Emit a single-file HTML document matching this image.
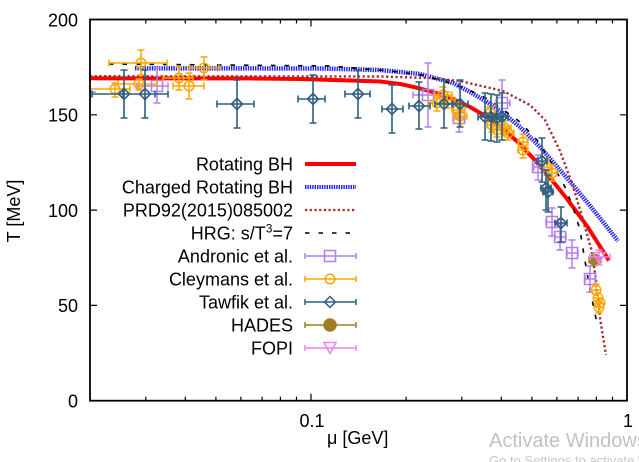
<!DOCTYPE html>
<html><head><meta charset="utf-8"><style>
html,body{margin:0;padding:0;background:#fff;}
svg{display:block;}
text{font-family:"Liberation Sans",Arial,sans-serif;}
</style></head><body>
<svg width="639" height="462" viewBox="0 0 639 462" xmlns="http://www.w3.org/2000/svg">
<defs>
<path id="sq" d="M-5.5 -5.5H5.5V5.5H-5.5Z"/>
<circle id="ci" cx="0" cy="0" r="4.8"/>
<path id="dm" d="M-5.5 0L0 -5.5L5.5 0L0 5.5Z"/>
<path id="tri" d="M-6 -4.5H6L0 6.5Z"/>
</defs>
<rect width="639" height="462" fill="#fff"/>

<!-- ticks -->
<g stroke="#000" stroke-width="1.2" fill="none">
<path d="M90 305.4h7M90 210.1h7M90 114.8h7M627 305.4h-7M627 210.1h-7M627 114.8h-7"/>
<path d="M311 400.7v-7M311 19.5v7"/>
<path d="M145.8 400.7v-4M185.3 400.7v-4M215.9 400.7v-4M240.9 400.7v-4M262.1 400.7v-4M280.4 400.7v-4M296.5 400.7v-4M406.1 400.7v-4M461.8 400.7v-4M501.3 400.7v-4M531.9 400.7v-4M556.9 400.7v-4M578.1 400.7v-4M596.4 400.7v-4M612.5 400.7v-4"/>
<path d="M145.8 19.5v4M185.3 19.5v4M215.9 19.5v4M240.9 19.5v4M262.1 19.5v4M280.4 19.5v4M296.5 19.5v4M406.1 19.5v4M461.8 19.5v4M501.3 19.5v4M531.9 19.5v4M556.9 19.5v4M578.1 19.5v4M596.4 19.5v4M612.5 19.5v4"/>
</g>

<!-- tick labels -->
<g font-size="18" fill="#000" text-anchor="end">
<text x="78" y="26.5">200</text>
<text x="78" y="121.5">150</text>
<text x="78" y="216.8">100</text>
<text x="78" y="312">50</text>
<text x="78" y="407.3">0</text>
</g>
<g font-size="18" fill="#000" text-anchor="middle">
<text x="312" y="427">0.1</text>
<text x="628" y="427">1</text>
</g>
<text x="327" y="444" font-size="18" fill="#000">μ [GeV]</text>
<text transform="translate(20,211) rotate(-90)" font-size="18" fill="#000" text-anchor="middle">T [MeV]</text>

<!-- curves -->
<polyline fill="none" stroke="#ff0000" stroke-width="4" stroke-linejoin="round" points="90,78.3 250,78.4 300,79 350,80.5 380,81.5 400,84 413,86.8 425,89.8 437,93.3 450,98 460,102.3 470,107 480,112.8 490,119 503,128.7 517,141.3 533,158.1 550,177.6 567,198.9 587,225.9 609,260.5"/>
<polyline fill="none" stroke="#2020ff" stroke-width="4.5" stroke-dasharray="1.4 1" stroke-linejoin="round" points="135,68.3 320,68.5 380,70 420,74 453,83 470,92 487,102 503,113 520,127 540,147 553,162 567,178 587,202 607,227 618,241"/>
<polyline fill="none" stroke="#a52a2a" stroke-width="2.4" stroke-dasharray="2.2 2.5" points="90,76.2 380,76.5 430,78 460,81 503,91 530,105 545,120 560,151 573,186 583,220 592,252 596,280 600,318 606,355"/>
<polyline fill="none" stroke="#000" stroke-width="1.6" stroke-dasharray="4.5 9" points="109,64 330,66 390,71 422,75 447,82 467,89 490,100 520,122 537,140 553,165 565,187 573,207 580,230 584,255 590,290 597,323"/>

<!-- Andronic -->
<g stroke="#b07ef5" stroke-width="1.5" fill="none">
<path d="M89 92H96M137 86H168M137 82.5v7M168 82.5v7M157 68V103M153.5 68h7M153.5 103h7M413 95H442M413 91.5v7M442 91.5v7M428 63V127M424.5 63h7M424.5 127h7M453 118H465M453 114.5v7M465 114.5v7M459 105V132M455.5 105h7M455.5 132h7M496 103H510M496 99.5v7M510 99.5v7M502 80V125M498.5 80h7M498.5 125h7M534 167H544M534 163.5v7M544 163.5v7M538 155V180M534.5 155h7M534.5 180h7M546 222H558M546 218.5v7M558 218.5v7M552 208V236M548.5 208h7M548.5 236h7M555 237H566M555 233.5v7M566 233.5v7M560 224V250M556.5 224h7M556.5 250h7M567 253H578M567 249.5v7M578 249.5v7M572 240V268M568.5 240h7M568.5 268h7M585 279H595M585 275.5v7M595 275.5v7M590 266V292M586.5 266h7M586.5 292h7"/>
<use href="#sq" x="157" y="86"/><use href="#sq" x="428" y="95"/><use href="#sq" x="459" y="118"/><use href="#sq" x="502" y="103"/><use href="#sq" x="538" y="167"/><use href="#sq" x="552" y="222"/><use href="#sq" x="560" y="237"/><use href="#sq" x="572" y="253"/><use href="#sq" x="590" y="279"/>
</g>

<!-- Cleymans -->
<g stroke="#ffa500" stroke-width="1.5" fill="none">
<path d="M109 63H167M109 59.5v7M167 59.5v7M141 50V75M137.5 50h7M137.5 75h7M90 89H130M90 85.5v7M130 85.5v7M115 83V97M111.5 83h7M111.5 97h7M118 84H157M118 80.5v7M157 80.5v7M139 79V90M135.5 79h7M135.5 90h7M163 78H193M163 74.5v7M193 74.5v7M179 67V90M175.5 67h7M175.5 90h7M173 86H204M173 82.5v7M204 82.5v7M189 73V99M185.5 73h7M185.5 99h7M189 68H219M189 64.5v7M219 64.5v7M204 57V80M200.5 57h7M200.5 80h7M428 103H446M428 99.5v7M446 99.5v7M437 95V111M433.5 95h7M433.5 111h7M435 95H452M435 91.5v7M452 91.5v7M443 87V103M439.5 87h7M439.5 103h7M440 100H455M440 96.5v7M455 96.5v7M447 92V108M443.5 92h7M443.5 108h7M452 110H465M452 106.5v7M465 106.5v7M458 102V119M454.5 102h7M454.5 119h7M454 116H467M454 112.5v7M467 112.5v7M460 108V124M456.5 108h7M456.5 124h7M485 113H496M485 109.5v7M496 109.5v7M490 107V119M486.5 107h7M486.5 119h7M487 125H498M487 121.5v7M498 121.5v7M492 118V132M488.5 118h7M488.5 132h7M491 130H503M491 126.5v7M503 126.5v7M497 123V137M493.5 123h7M493.5 137h7M499 128H511M499 124.5v7M511 124.5v7M505 121V135M501.5 121h7M501.5 135h7M502 133H514M502 129.5v7M514 129.5v7M508 126V140M504.5 126h7M504.5 140h7M518 142H528M518 138.5v7M528 138.5v7M523 134V150M519.5 134h7M519.5 150h7M518 150H528M518 146.5v7M528 146.5v7M523 142V158M519.5 142h7M519.5 158h7M542 167H552M542 163.5v7M552 163.5v7M547 159V175M543.5 159h7M543.5 175h7M547 173H557M547 169.5v7M557 169.5v7M552 165V181M548.5 165h7M548.5 181h7M592 290H600M596 284V296M592.5 284h7M594 298H602M598 292V304M596 303H604M600 297V309M595 307H603M599 301V313M595.5 313h7"/>
<use href="#ci" x="141" y="63"/><use href="#ci" x="115" y="89"/><use href="#ci" x="139" y="84"/><use href="#ci" x="179" y="78"/><use href="#ci" x="189" y="86"/><use href="#ci" x="204" y="68"/><use href="#ci" x="437" y="103"/><use href="#ci" x="443" y="95"/><use href="#ci" x="447" y="100"/><use href="#ci" x="458" y="110"/><use href="#ci" x="460" y="116"/><use href="#ci" x="490" y="113"/><use href="#ci" x="492" y="125"/><use href="#ci" x="497" y="130"/><use href="#ci" x="505" y="128"/><use href="#ci" x="508" y="133"/><use href="#ci" x="523" y="142"/><use href="#ci" x="523" y="150"/><use href="#ci" x="547" y="167"/><use href="#ci" x="552" y="173"/><use href="#ci" x="596" y="290"/><use href="#ci" x="598" y="298"/><use href="#ci" x="600" y="303"/><use href="#ci" x="599" y="307"/>
</g>

<!-- Tawfik -->
<g stroke="#2e5f7f" stroke-width="1.6" fill="none">
<path d="M92 94H155M92 90.5v7M155 90.5v7M124 70V118M120.5 70h7M120.5 118h7M123 94H168M123 90.5v7M168 90.5v7M145 70V118M141.5 70h7M141.5 118h7M217 104H254M217 100.5v7M254 100.5v7M237 80V128M233.5 80h7M233.5 128h7M298 99H325M298 95.5v7M325 95.5v7M313 75V123M309.5 75h7M309.5 123h7M345 94H370M345 90.5v7M370 90.5v7M358 70V118M354.5 70h7M354.5 118h7M382 109H403M382 105.5v7M403 105.5v7M392 85V133M388.5 85h7M388.5 133h7M409 106H430M409 102.5v7M430 102.5v7M419 82V129M415.5 82h7M415.5 129h7M435 104H453M435 100.5v7M453 100.5v7M444 80V128M440.5 80h7M440.5 128h7M452 104H468M452 100.5v7M468 100.5v7M460 80V127M456.5 80h7M456.5 127h7M478 117H492M478 113.5v7M492 113.5v7M485 93V140M481.5 93h7M481.5 140h7M485 117H497M485 113.5v7M497 113.5v7M491 94V141M487.5 94h7M487.5 141h7M491 118H503M491 114.5v7M503 114.5v7M497 95V142M493.5 95h7M493.5 142h7M496 117H508M496 113.5v7M508 113.5v7M502 93V140M498.5 93h7M498.5 140h7M537 161H547M537 157.5v7M547 157.5v7M542 138V182M538.5 138h7M538.5 182h7M541 188H551M541 184.5v7M551 184.5v7M546 170V210M542.5 170h7M542.5 210h7M543 192H553M543 188.5v7M553 188.5v7M548 175V212M544.5 175h7M544.5 212h7M555 223H567M555 219.5v7M567 219.5v7M561 207V242M557.5 207h7M557.5 242h7"/>
<use href="#dm" x="124" y="94"/><use href="#dm" x="145" y="94"/><use href="#dm" x="237" y="104"/><use href="#dm" x="313" y="99"/><use href="#dm" x="358" y="94"/><use href="#dm" x="392" y="109"/><use href="#dm" x="419" y="106"/><use href="#dm" x="444" y="104"/><use href="#dm" x="460" y="104"/><use href="#dm" x="485" y="117"/><use href="#dm" x="491" y="117"/><use href="#dm" x="497" y="118"/><use href="#dm" x="502" y="117"/><use href="#dm" x="542" y="161"/><use href="#dm" x="546" y="188"/><use href="#dm" x="548" y="192"/><use href="#dm" x="561" y="223"/>
</g>

<!-- HADES -->
<g stroke="#a07d20" stroke-width="1.5" fill="none">
<path d="M589 260H601M589 256.5v7M601 256.5v7"/>
<circle cx="595" cy="260" r="5.5" fill="#a07d20"/>
</g>
<!-- FOPI -->
<g stroke="#ee82ee" stroke-width="1.5" fill="none">
<path d="M590 257H610M590 253.5v7M610 253.5v7M599 250V265M595.5 250h7M595.5 265h7"/>
<use href="#tri" x="599" y="257"/>
</g>

<!-- legend -->
<g font-size="18" fill="#000" text-anchor="end">
<text x="293" y="170.5">Rotating BH</text>
<text x="293" y="193.5">Charged Rotating BH</text>
<text x="293" y="216.5">PRD92(2015)085002</text>
<text x="293" y="239.5">HRG: s/T<tspan dy="-7" font-size="12">3</tspan><tspan dy="7">=7</tspan></text>
<text x="293" y="262.5">Andronic et al.</text>
<text x="293" y="285.5">Cleymans et al.</text>
<text x="293" y="308.5">Tawfik et al.</text>
<text x="293" y="331.5">HADES</text>
<text x="293" y="354.5">FOPI</text>
</g>
<line x1="305" y1="164" x2="356" y2="164" stroke="#ff0000" stroke-width="4"/>
<line x1="305" y1="187" x2="356" y2="187" stroke="#2020ff" stroke-width="4" stroke-dasharray="1.4 1"/>
<line x1="305" y1="210" x2="356" y2="210" stroke="#a52a2a" stroke-width="2.2" stroke-dasharray="2.2 2.5"/>
<line x1="305" y1="233" x2="356" y2="233" stroke="#000" stroke-width="1.5" stroke-dasharray="4.5 9"/>
<g stroke="#b07ef5" stroke-width="1.5" fill="none"><path d="M305 256H356M305 253v6M356 253v6"/><use href="#sq" x="330" y="256"/></g>
<g stroke="#ffa500" stroke-width="1.5" fill="none"><path d="M305 279H356M305 276v6M356 276v6"/><use href="#ci" x="330" y="279"/></g>
<g stroke="#2e5f7f" stroke-width="1.5" fill="none"><path d="M305 302H356M305 299v6M356 299v6"/><use href="#dm" x="330" y="302"/></g>
<g stroke="#a07d20" stroke-width="1.5" fill="none"><path d="M305 325H356M305 322v6M356 322v6"/><circle cx="330" cy="325" r="6" fill="#a07d20"/></g>
<g stroke="#ee82ee" stroke-width="1.5" fill="none"><path d="M305 348H356M305 345v6M356 345v6"/><use href="#tri" x="330" y="347"/></g>

<!-- frame -->
<rect x="90" y="19.5" width="537" height="381.2" fill="none" stroke="#000" stroke-width="1.8"/>

<!-- watermark -->
<text x="489" y="447" font-size="20" fill="#c2c2c2">Activate Windows</text>
<text x="489" y="465" font-size="13" fill="#c8c8c8">Go to Settings to activate Windows.</text>
</svg>
</body></html>
